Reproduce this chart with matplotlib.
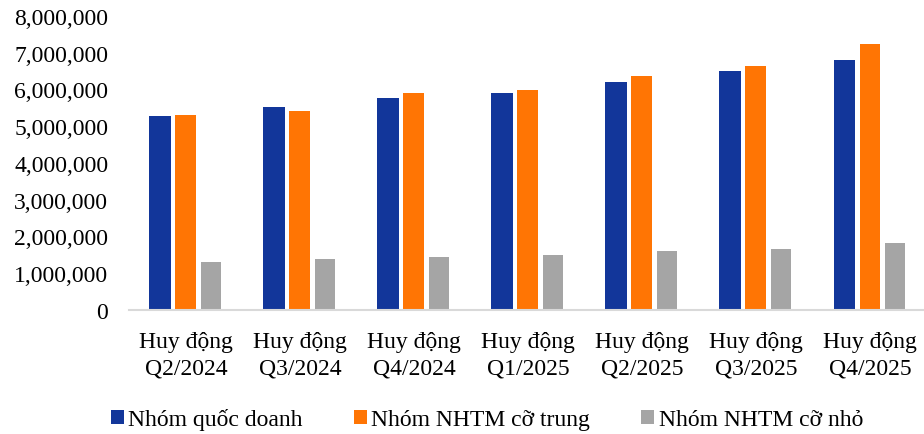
import matplotlib
matplotlib.use("Agg")
import matplotlib.pyplot as plt
import matplotlib.ticker as mticker
import numpy as np

plt.rcParams['font.family'] = ['Liberation Serif', 'DejaVu Serif']

categories = ["Huy động\nQ2/2024", "Huy động\nQ3/2024", "Huy động\nQ4/2024",
              "Huy động\nQ1/2025", "Huy động\nQ2/2025", "Huy động\nQ3/2025",
              "Huy động\nQ4/2025"]
series_names = ["Nhóm quốc doanh", "Nhóm NHTM cỡ trung", "Nhóm NHTM cỡ nhỏ"]
quoc_doanh = [5290000, 5520000, 5770000, 5900000, 6210000, 6500000, 6790000]
co_trung = [5310000, 5420000, 5900000, 5990000, 6370000, 6630000, 7230000]
co_nho = [1310000, 1390000, 1430000, 1500000, 1610000, 1670000, 1810000]
colors = ["#12369A", "#FF7504", "#A5A5A5"]
y_ticks = [0, 1000000, 2000000, 3000000, 4000000, 5000000, 6000000, 7000000, 8000000]

fig = plt.figure(figsize=(9.24, 4.35), dpi=100)
ax = fig.add_axes([129 / 924, (435 - 311) / 435, (924 - 129) / 924, (311 - 17) / 435])

x = np.arange(len(categories))
step = 0.222
width = 0.18
for i, (vals, name, col) in enumerate(zip([quoc_doanh, co_trung, co_nho], series_names, colors)):
    w = width + (0.012 if i == 0 else 0)
    ax.bar(x + (i - 1) * step - 0.005, vals, width=w, color=col, label=name, zorder=2)

ax.set_ylim(0, 8000000)
ax.set_xlim(-0.5, 6.47)
ax.set_yticks(y_ticks)
ax.yaxis.set_major_formatter(mticker.FuncFormatter(lambda v, p: f"{int(v):,}"))
ax.set_xticks(x)
ax.set_xticklabels(categories, linespacing=1.35)

for side in ["top", "right", "left"]:
    ax.spines[side].set_visible(False)
ax.spines["bottom"].set_color("#D9D9D9")
ax.spines["bottom"].set_linewidth(1.5)
ax.tick_params(axis="y", length=0, pad=15, labelsize=17)
ax.tick_params(axis="x", length=0, pad=15, labelsize=17)

fig.legend(loc="lower center", bbox_to_anchor=(0.527, -0.04), ncol=3, frameon=False,
           fontsize=17, handlelength=0.55, handleheight=0.55, handletextpad=0.2,
           columnspacing=2.15)

fig.savefig("out.png", dpi=100)
